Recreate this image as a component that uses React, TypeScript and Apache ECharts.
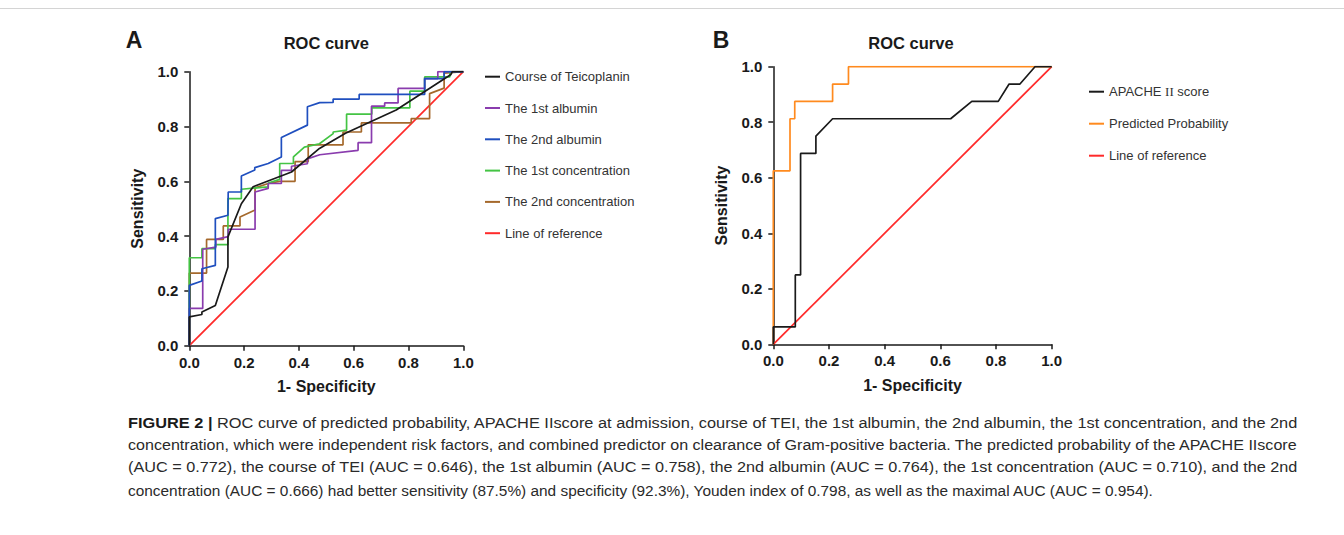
import React, { useEffect, useRef } from "react";
import * as echarts from "echarts";

// ---------- Data ----------
const xTicks = [0, 0.2, 0.4, 0.6, 0.8, 1.0];

const namesA = [
  "Course of Teicoplanin",
  "The 1st albumin",
  "The 2nd albumin",
  "The 1st concentration",
  "The 2nd concentration",
  "Line of reference",
];
const namesB = ["APACHE Ⅱ score", "Predicted Probability", "Line of reference"];

const courseTEI = [
  [0, 0], [0, 0.105], [0.046, 0.114], [0.046, 0.123], [0.095, 0.147], [0.141, 0.287],
  [0.141, 0.397], [0.19, 0.518], [0.233, 0.58], [0.373, 0.634], [0.475, 0.72],
  [0.57, 0.775], [0.755, 0.86], [0.955, 0.99], [0.96, 1], [1, 1],
];
const albumin1 = [
  [0, 0], [0, 0.136], [0.049, 0.136], [0.049, 0.352], [0.097, 0.36], [0.097, 0.388],
  [0.142, 0.398], [0.142, 0.425], [0.24, 0.425], [0.24, 0.561], [0.288, 0.574],
  [0.288, 0.592], [0.336, 0.592], [0.336, 0.64], [0.373, 0.64], [0.373, 0.655],
  [0.431, 0.664], [0.431, 0.682], [0.476, 0.697], [0.616, 0.713], [0.616, 0.741],
  [0.665, 0.741], [0.665, 0.874], [0.713, 0.874], [0.713, 0.886], [0.762, 0.886],
  [0.762, 0.939], [0.859, 0.939], [0.859, 0.975], [0.907, 0.975], [0.907, 1], [1, 1],
];
const albumin2 = [
  [0, 0], [0, 0.22], [0.046, 0.236], [0.046, 0.281], [0.095, 0.293], [0.095, 0.464],
  [0.141, 0.476], [0.142, 0.561], [0.19, 0.561], [0.19, 0.619], [0.239, 0.641],
  [0.239, 0.65], [0.288, 0.665], [0.336, 0.689], [0.336, 0.76], [0.431, 0.805],
  [0.431, 0.872], [0.476, 0.887], [0.525, 0.888], [0.525, 0.9], [0.62, 0.9],
  [0.62, 0.917], [0.859, 0.917], [0.859, 0.975], [0.93, 0.975], [0.93, 1], [1, 1],
];
const concentration1 = [
  [0, 0], [0, 0.321], [0.046, 0.321], [0.046, 0.354], [0.095, 0.354], [0.095, 0.369],
  [0.141, 0.369], [0.141, 0.537], [0.19, 0.537], [0.19, 0.571], [0.288, 0.58],
  [0.288, 0.594], [0.33, 0.607], [0.33, 0.665], [0.38, 0.665], [0.38, 0.689],
  [0.42, 0.725], [0.475, 0.737], [0.525, 0.774], [0.525, 0.78], [0.574, 0.787],
  [0.574, 0.845], [0.666, 0.845], [0.666, 0.868], [0.805, 0.868], [0.805, 0.929],
  [0.859, 0.929], [0.859, 0.981], [0.951, 0.981], [0.951, 1], [1, 1],
];
const concentration2 = [
  [0, 0], [0, 0.265], [0.063, 0.265], [0.063, 0.388], [0.124, 0.388], [0.124, 0.437],
  [0.185, 0.437], [0.185, 0.47], [0.24, 0.495], [0.24, 0.576], [0.288, 0.592],
  [0.33, 0.6], [0.386, 0.6], [0.386, 0.672], [0.434, 0.672], [0.434, 0.733],
  [0.561, 0.733], [0.561, 0.78], [0.628, 0.78], [0.628, 0.813], [0.81, 0.813],
  [0.81, 0.829], [0.877, 0.829], [0.877, 0.92], [0.93, 0.94], [0.93, 0.995], [1, 1],
];
const referenceLine = [[0, 0], [1, 1]];

const apacheScore = [
  [0, 0], [0, 0.0625], [0.079, 0.0625], [0.079, 0.25], [0.098, 0.25], [0.098, 0.6875],
  [0.153, 0.6875], [0.153, 0.75], [0.213, 0.8125], [0.637, 0.8125], [0.713, 0.875],
  [0.808, 0.875], [0.847, 0.9375], [0.886, 0.9375], [0.94, 1], [1, 1],
];
const predictedProbability = [
  [0, 0], [0, 0.625], [0.06, 0.625], [0.06, 0.8125], [0.077, 0.8125], [0.077, 0.875],
  [0.213, 0.875], [0.213, 0.9375], [0.27, 0.9375], [0.27, 1], [1, 1],
];

const captionLines = [
  "{b|FIGURE 2 |} ROC curve of predicted probability, APACHE IIscore at admission, course of TEI, the 1st albumin, the 2nd albumin, the 1st concentration, and the 2nd",
  "concentration, which were independent risk factors, and combined predictor on clearance of Gram-positive bacteria. The predicted probability of the APACHE IIscore",
  "(AUC = 0.772), the course of TEI (AUC = 0.646), the 1st albumin (AUC = 0.758), the 2nd albumin (AUC = 0.764), the 1st concentration (AUC = 0.710), and the 2nd",
  "concentration (AUC = 0.666) had better sensitivity (87.5%) and specificity (92.3%), Youden index of 0.798, as well as the maximal AUC (AUC = 0.954).",
];

// ---------- Styles ----------
const FONT = "'Liberation Sans', Arial, Helvetica, sans-serif";
const SERIF = "'Liberation Serif', 'DejaVu Serif', serif";
const INK = "#1a1a1a";
const colA = ["#1a1a1a", "#8a3cae", "#1f4fbf", "#44c444", "#a5692c", "#ff2a2a"];
const colB = ["#1a1a1a", "#ff8a1e", "#ff2a2a"];

function measure(text: string, font: string) {
  const c = document.createElement("canvas").getContext("2d")!;
  c.font = font;
  return c.measureText(text).width;
}

function axisCommon(name: string, isY: boolean, gridIndex: number) {
  return {
    type: "value",
    gridIndex,
    min: 0,
    max: 1,
    interval: 0.2,
    name,
    nameLocation: "middle",
    nameGap: isY ? 44 : 33,
    nameTextStyle: { fontSize: 16, fontWeight: "bold", color: INK, fontFamily: FONT },
    axisLine: { show: true, onZero: false, lineStyle: { color: INK, width: 1.5 } },
    axisTick: { show: true, length: 5, lineStyle: { color: INK, width: 1.5 } },
    axisLabel: {
      fontSize: 15,
      fontWeight: "bold",
      color: INK,
      fontFamily: FONT,
      margin: isY ? 11 : 9,
      formatter: (v: number) => v.toFixed(1),
    },
    splitLine: { show: false },
  };
}

function lineSeries(name: string, data: number[][], color: string, gi: number, z = 2) {
  return {
    type: "line",
    name,
    data,
    xAxisIndex: gi,
    yAxisIndex: gi,
    color,
    symbol: "none",
    showSymbol: false,
    z,
    lineStyle: { color, width: 1.7 },
  };
}

export default function App() {
  const ref = useRef<HTMLDivElement>(null);

  useEffect(() => {
    document.body.style.margin = "0";
    const chart = echarts.init(ref.current!, null, { renderer: "svg" });

    // caption layout: size chosen so the last (unjustified) line spans its width
    const capLeft = 128;
    const capRight = 1298;
    const lastTarget = 1157 - capLeft;
    const baseW = measure(captionLines[3], `15px ${FONT}`);
    const capSize = Math.round((15 * lastTarget / baseW) * 10) / 10;
    const regFont = `${capSize}px ${FONT}`;
    const boldFont = `bold ${capSize}px ${FONT}`;
    const lineWidths = captionLines.map((t, i) => {
      if (i === 0) {
        const rest = t.replace("{b|FIGURE 2 |}", "");
        return measure("FIGURE 2 |", boldFont) + measure(rest, regFont);
      }
      return measure(t, regFont);
    });
    const capY = [423, 445, 467, 490];

    const captionGraphics = captionLines.map((t, i) => {
      const justify = i < captionLines.length - 1;
      const sx = justify ? (capRight - capLeft) / lineWidths[i] : 1;
      return {
        type: "text",
        x: capLeft,
        y: capY[i],
        scaleX: sx,
        style: {
          text: t,
          fontSize: capSize,
          fontFamily: FONT,
          fill: "#2a2a2a",
          verticalAlign: "middle",
          align: "left",
          rich: { b: { fontWeight: "bold", fontSize: capSize, fontFamily: FONT, fill: "#1a1a1a" } },
        },
      };
    });

    const legendText = {
      fontSize: 13,
      color: "#333",
      fontFamily: FONT,
      lineHeight: 16,
      rich: { r: { fontFamily: SERIF, fontSize: 13, color: "#333", lineHeight: 16 } },
    };
    const legendFormatter = (n: string) => n.replace("Ⅱ", "{r|II}");

    const option: any = {
      animation: false,
      backgroundColor: "#ffffff",
      grid: [
        { left: 189.3, top: 71.7, width: 274, height: 274, containLabel: false },
        { left: 773.3, top: 66.7, width: 278.4, height: 277.6, containLabel: false },
      ],
      xAxis: [axisCommon("1- Specificity", false, 0), axisCommon("1- Specificity", false, 1)],
      yAxis: [axisCommon("Sensitivity", true, 0), axisCommon("Sensitivity", true, 1)],
      legend: [
        {
          data: namesA,
          orient: "vertical",
          left: 480,
          top: 63.7,
          icon: "rect",
          itemWidth: 15,
          itemHeight: 2,
          itemGap: 15.3,
          selectedMode: false,
          textStyle: legendText,
        },
        {
          data: namesB,
          orient: "vertical",
          left: 1084,
          top: 78.7,
          icon: "rect",
          itemWidth: 15,
          itemHeight: 2,
          itemGap: 16,
          selectedMode: false,
          formatter: legendFormatter,
          textStyle: legendText,
        },
      ],
      series: [
        lineSeries(namesA[5], referenceLine, colA[5], 0, 1),
        lineSeries(namesA[4], concentration2, colA[4], 0),
        lineSeries(namesA[3], concentration1, colA[3], 0),
        lineSeries(namesA[1], albumin1, colA[1], 0),
        lineSeries(namesA[2], albumin2, colA[2], 0),
        lineSeries(namesA[0], courseTEI, colA[0], 0, 3),
        lineSeries(namesB[2], referenceLine, colB[2], 1, 1),
        lineSeries(namesB[0], apacheScore, colB[0], 1, 3),
        lineSeries(namesB[1], predictedProbability, colB[1], 1, 2),
      ],
      graphic: [
        {
          type: "line",
          shape: { x1: 0, y1: 8.5, x2: 1344, y2: 8.5 },
          style: { stroke: "#d4d4d4", lineWidth: 1 },
        },
        {
          type: "text",
          x: 134,
          y: 40,
          style: { text: "A", fontSize: 23, fontWeight: "bold", fontFamily: FONT, fill: INK, align: "center", verticalAlign: "middle" },
        },
        {
          type: "text",
          x: 721,
          y: 40,
          style: { text: "B", fontSize: 23, fontWeight: "bold", fontFamily: FONT, fill: INK, align: "center", verticalAlign: "middle" },
        },
        {
          type: "text",
          x: 326.3,
          y: 43,
          style: { text: "ROC curve", fontSize: 16.5, fontWeight: "bold", fontFamily: FONT, fill: INK, align: "center", verticalAlign: "middle" },
        },
        {
          type: "text",
          x: 911,
          y: 43,
          style: { text: "ROC curve", fontSize: 16.5, fontWeight: "bold", fontFamily: FONT, fill: INK, align: "center", verticalAlign: "middle" },
        },
        ...captionGraphics,
      ],
    };

    chart.setOption(option);
    return () => chart.dispose();
  }, []);

  return <div ref={ref} style={{ width: 1344, height: 535 }} />;
}
